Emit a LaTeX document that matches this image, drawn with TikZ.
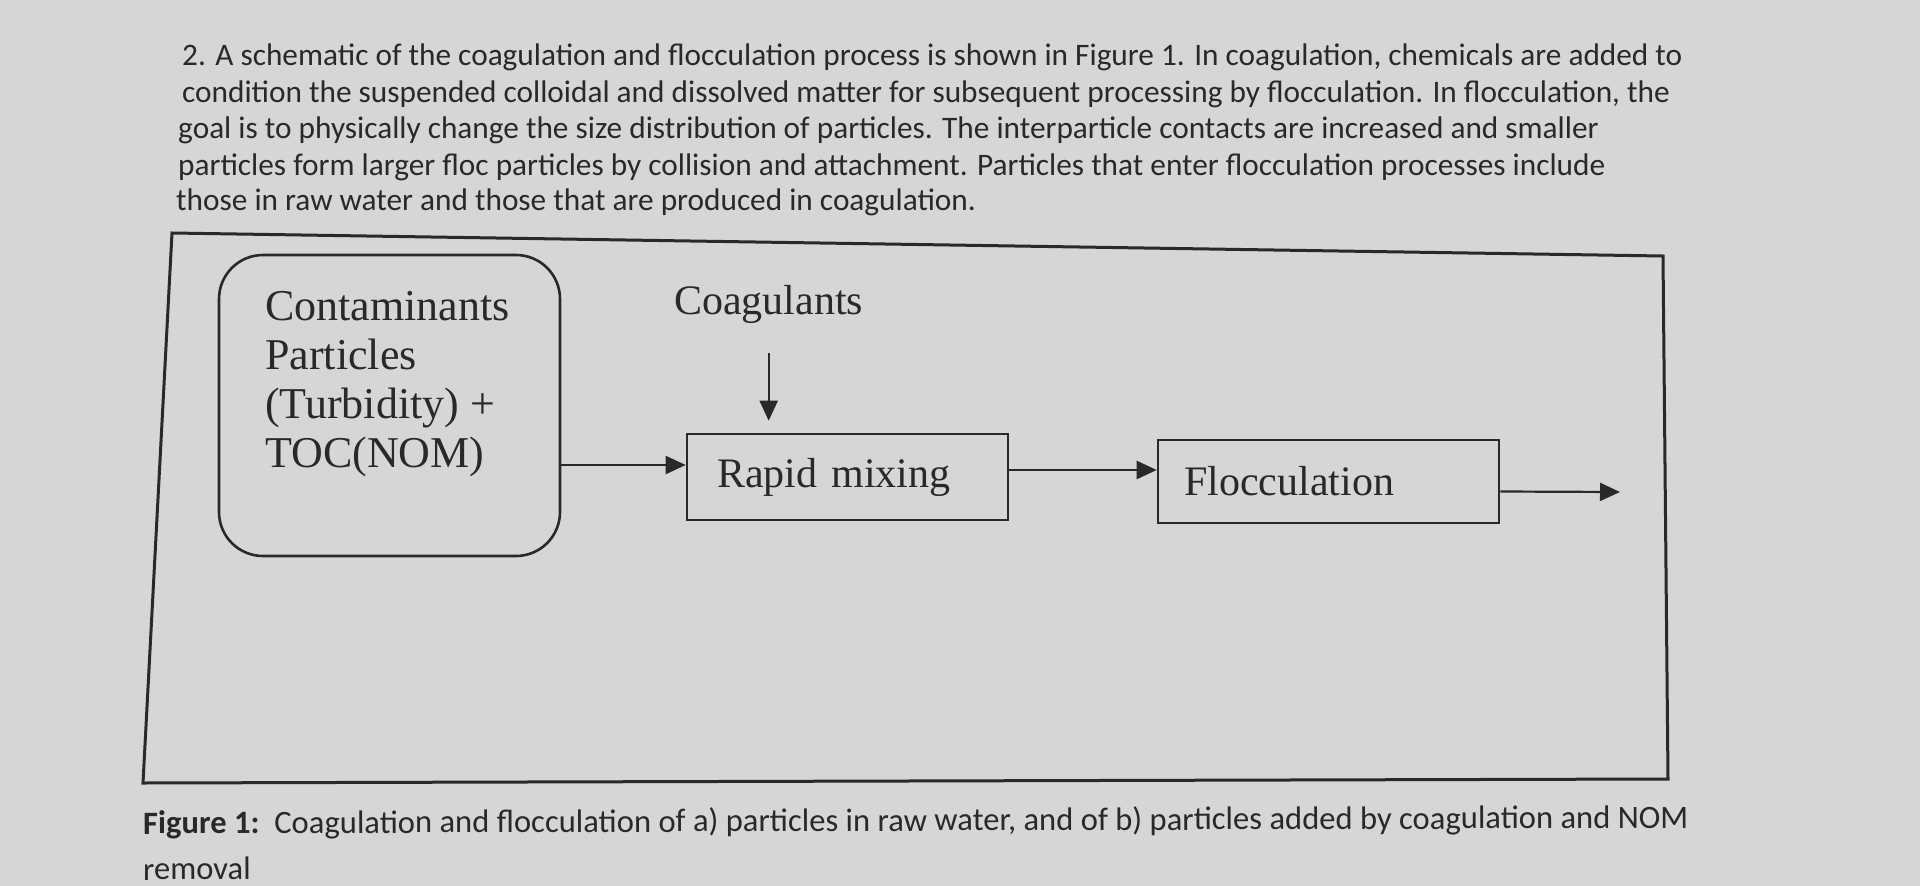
\documentclass[tikz,border=0pt]{standalone}
\usepackage{fontspec}
\setmainfont{Liberation Serif}
\newfontfamily\bodyfont{Carlito}
\usetikzlibrary{arrows.meta}

\definecolor{paper}{RGB}{216,214,212}
\definecolor{ink}{RGB}{42,40,40}

\tikzset{
	procbox/.style={draw=ink, line width=2.6pt, minimum height=86pt, align=left, text=ink, font=\fontsize{42}{49}\selectfont},
	roundbox/.style={draw=ink, line width=2.6pt, rounded corners=44pt, inner sep=0pt},
	arr/.style={draw=ink, line width=2.2pt, -{Triangle[length=20pt,width=18pt]}},
	bodyline/.style={anchor=base west, inner sep=0pt, text=ink, font=\bodyfont\fontsize{31.3}{37}\selectfont},
	capline/.style={anchor=base west, inner sep=0pt, rotate=0.22, text=ink, font=\bodyfont\fontsize{32.6}{44}\selectfont},
}

\begin{document}
\begin{tikzpicture}[x=1pt, y=-1pt]
	% paper
	\fill[paper] (0,0) rectangle (1920,886);

	% question text
	\node[bodyline] (lineA) at (182,65) {2. A schematic of the coagulation and flocculation process is shown in Figure 1. In coagulation, chemicals are added to};
	\node[bodyline] (lineB) at (182,102) {condition the suspended colloidal and dissolved matter for subsequent processing by flocculation. In flocculation, the};
	\node[bodyline] (lineC) at (178,138) {goal is to physically change the size distribution of particles. The interparticle contacts are increased and smaller};
	\node[bodyline] (lineD) at (178,175) {particles form larger floc particles by collision and attachment. Particles that enter flocculation processes include};
	\node[bodyline] (lineE) at (176,210) {those in raw water and those that are produced in coagulation.};

	% figure frame
	\draw[ink, line width=3pt] (172,233) -- (1663,256) -- (1668,779) -- (143,783) -- cycle;

	% raw water box
	\node[roundbox, minimum width=341pt, minimum height=301pt] (cont) at (389.5,405.5) {};
	\node[anchor=north west, inner sep=0pt, align=left, text=ink, font=\fontsize{44}{49}\selectfont] (contText) at (265,291) {Contaminants\\Particles\\(Turbidity) +\\TOC(NOM)};

	% process boxes
	\node[anchor=base west, inner sep=0pt, text=ink, font=\fontsize{42}{49}\selectfont] (coag) at (674,314) {Coagulants};
	\node[procbox, minimum width=321pt, text width=261pt, inner xsep=30pt] (mix) at (847.5,477) {Rapid mixing};
	\node[procbox, minimum width=341pt, text width=289pt, inner xsep=26pt, minimum height=83pt] (floc) at (1328.5,481.5) {Flocculation};

	% flows
	\coordinate (mixIn) at ([yshift=12pt]mix.west);
	\coordinate (mixOut) at ([yshift=7pt]mix.east);
	\coordinate (flocOut) at ([yshift=-10pt]floc.east);
	\coordinate (outEnd) at (1620,492);
	\draw[arr] (cont.east |- mixIn) -- (mixIn);
	\draw[arr] ([yshift=-30pt]coag.south) -- ([yshift=12pt]coag.south |- mix.north);
	\draw[arr] (mixOut) -- (mixOut -| floc.west);
	\draw[arr] (flocOut) -- (outEnd);

	% caption
	\node[capline] (capA) at (143,834) {\textbf{Figure 1:}\ \ Coagulation and flocculation of a) particles in raw water, and of b) particles added by coagulation and NOM};
	\node[capline] (capB) at (143,880) {removal};
\end{tikzpicture}
\end{document}
